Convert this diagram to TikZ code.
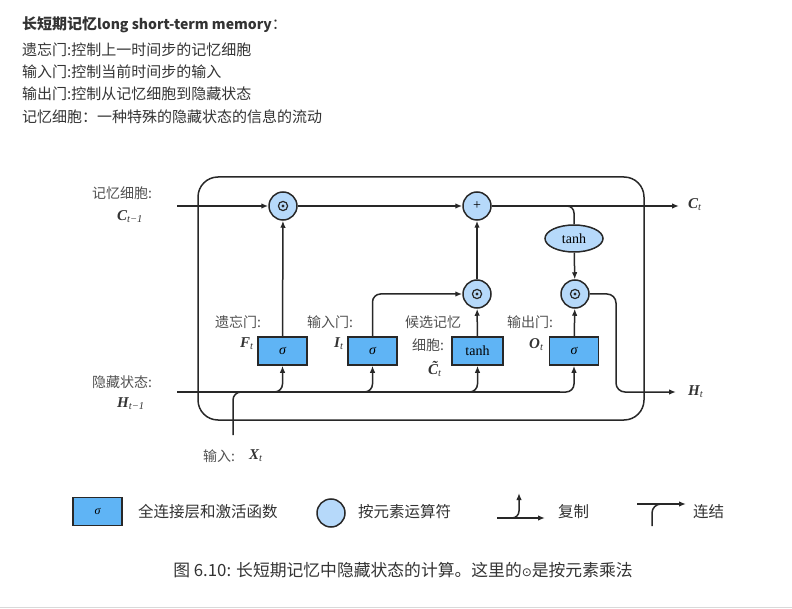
\documentclass[tikz,border=0pt]{standalone}
\usepackage{fontspec}
\usetikzlibrary{arrows.meta,shapes.geometric,calc}
\setmainfont{Liberation Serif}
\newfontfamily\cjk{Noto Sans CJK SC}
\newfontfamily\symf{DejaVu Sans}
\definecolor{boxblue}{RGB}{95,180,245}
\definecolor{circblue}{RGB}{182,217,250}
\definecolor{txt}{RGB}{51,51,51}
\definecolor{lblc}{RGB}{80,80,80}
\definecolor{wire}{RGB}{40,40,40}
\newcommand{\mvar}[2]{{\bfseries\itshape #1}\textsubscript{\itshape #2}}
\begin{document}
\begin{tikzpicture}[x=1pt,y=-1pt,
  op/.style={circle,draw=wire,fill=circblue,line width=1.5pt,minimum size=28pt,inner sep=0pt},
  layer/.style={rectangle,draw=wire,fill=boxblue,line width=1.5pt,minimum width=49pt,minimum height=28pt,inner sep=0pt,font=\fontsize{14}{16}\selectfont},
  arr/.style={-{Latex[length=7pt,width=5.5pt]},line width=1.5pt,draw=wire},
  ln/.style={line width=1.5pt,draw=wire},
  lab/.style={anchor=west,inner sep=0pt,text=lblc,font=\cjk\fontsize{14}{16}\selectfont},
  var/.style={anchor=west,inner sep=0pt,text=txt,font=\fontsize{15}{17}\selectfont},
  head/.style={anchor=west,inner sep=0pt,text=txt,font=\cjk\fontsize{15}{17}\selectfont},
  leg/.style={anchor=west,inner sep=0pt,text=txt,font=\cjk\fontsize{15.5}{17}\selectfont}
]
\useasboundingbox (0,0) rectangle (792,609);

% header
\node[head] (h0) at (22,25) {{\bfseries 长短期记忆{\fontsize{14}{16}\selectfont long short-term memory}}：};
\node[head] (h1) at (22,50) {遗忘门:控制上一时间步的记忆细胞};
\node[head] (h2) at (22,72) {输入门:控制当前时间步的输入};
\node[head] (h3) at (22,94) {输出门:控制从记忆细胞到隐藏状态};
\node[head] (h4) at (22,117) {记忆细胞：一种特殊的隐藏状态的信息的流动};

% outer cell
\node[draw=wire,line width=1.5pt,rounded corners=20pt,minimum width=446pt,minimum height=243pt,inner sep=0pt] (cell) at (421,298.5) {};

% operators
\node[op] (m1) at (283,206) {};
\node[op,font=\fontsize{14}{16}\selectfont] (add) at (477,206) {+};
\node[op] (m2) at (477,294) {};
\node[op] (m3) at (575,294) {};
\foreach \m in {m1,m2,m3}{
  \draw[line width=1.2pt,draw=wire] (\m) circle (4.6pt);
  \fill[wire] (\m) circle (1.7pt);
}
\node[ellipse,draw=wire,fill=circblue,line width=1.5pt,minimum width=58pt,minimum height=27pt,inner sep=0pt,font=\fontsize{14}{16}\selectfont] (th) at (574,238.5) {tanh};

% layers
\node[layer] (f) at (282.5,351) {\itshape σ};
\node[layer] (i) at (372.5,351) {\itshape σ};
\node[layer,minimum width=51pt] (c) at (477.5,351) {tanh};
\node[layer] (o) at (574,351) {\itshape σ};

% free ends
\coordinate (Cin) at (177,206);
\coordinate (Cout) at (679,206);
\coordinate (Hin) at (177,392);
\coordinate (Hout) at (676,392);
\coordinate (Xin) at (233,435);
\coordinate (turn) at (616,392);

% C line
\draw[arr] (Cin) -- (m1);
\draw[arr] (m1) -- (add);
\draw[arr] (add) -- (Cout);
\draw[ln,rounded corners=7pt] (add.east) -| (th.north);
\draw[arr] (th) -- (m3);
\draw[arr] (f) -- (m1);
\draw[arr,rounded corners=8pt] (i.north) |- (m2.west);
\draw[arr] (c) -- (m2);
\draw[arr] (m2) -- (add);
\draw[arr] (o) -- (m3);
\draw[arr,rounded corners=9pt] (m3.east) -| (turn) -- (Hout);

% H line and inputs
\draw[ln] (Hin) -- ($(o.south |- Hin)+(-14,0)$);
\foreach \b in {f,i,c,o}{
  \draw[arr,rounded corners=8pt] ($(\b.south |- Hin)+(-14,0)$) -| (\b.south);
}
\draw[ln,rounded corners=8pt] (Xin) |- ($(Xin |- Hin)+(16,0)$);

% labels
\node[lab] (lc) at (92,193) {记忆细胞:};
\node[var] (vc) at (117,217) {\mvar{C}{t−1}};
\node[lab] (lh) at (92,382) {隐藏状态:};
\node[var] (vh) at (117,404) {\mvar{H}{t−1}};
\node[lab] (lx) at (203,456) {输入:};
\node[var] (vx) at (249,456) {\mvar{X}{t}};
\node[var] (vct) at (688,205) {\mvar{C}{t}};
\node[var] (vht) at (688,392) {\mvar{H}{t}};

\node[lab] (lf) at (215,322) {遗忘门:};
\node[var] (vf) at (240,344) {\mvar{F}{t}};
\node[lab] (li) at (307,322) {输入门:};
\node[var] (vi) at (334,344) {\mvar{I}{t}};
\node[lab] (lcc) at (405,322) {候选记忆};
\node[lab] (lcc2) at (412,345) {细胞:};
\node[var] (vcc) at (428,369) {\mvar{\~{C}}{t}};
\node[lab] (lo) at (507,322) {输出门:};
\node[var] (vo) at (529,345) {\mvar{O}{t}};

% legend
\node[layer,font=\fontsize{12}{14}\selectfont] (lgbox) at (97.5,511.5) {\itshape σ};
\node[leg] (lgt1) at (138,512) {全连接层和激活函数};
\node[op,minimum size=28pt] (lgop) at (331,513) {};
\node[leg] (lgt2) at (358,512) {按元素运算符};
\coordinate (cpA) at (497,518);
\coordinate (cpB) at (545,518);
\coordinate (cpU) at (519,493);
\draw[arr] (cpA) -- (cpB);
\draw[arr,rounded corners=7pt] (506,518) -| (cpU);
\node[leg] (lgt3) at (558,512) {复制};
\coordinate (cnA) at (637,504);
\coordinate (cnB) at (686,504);
\coordinate (cnD) at (652,526);
\draw[arr] (cnA) -- (cnB);
\draw[ln,rounded corners=9pt] (cnD) |- (666,504);
\node[leg] (lgt4) at (693,512) {连结};

% caption
\node[inner sep=0pt,text=txt,font=\cjk\fontsize{16.8}{19}\selectfont] (cap) at (403,570) {图 6.10: 长短期记忆中隐藏状态的计算。这里的{\symf\fontsize{12}{14}\selectfont ⊙}是按元素乘法};

% bottom rule
\draw[draw=black!15,line width=1.5pt] (0,607.5) -- (792,607.5);
\end{tikzpicture}
\end{document}
